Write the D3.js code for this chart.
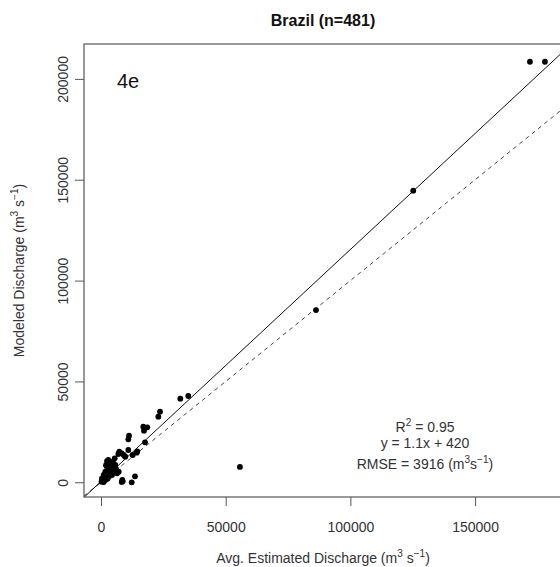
<!DOCTYPE html>
<html>
<head>
<meta charset="utf-8">
<script src="https://cdn.jsdelivr.net/npm/d3@7"></script>
<style>
  body { margin: 0; background: #fff; }
  svg { font-family: "Liberation Sans", Arial, sans-serif; }
  .axis text { fill: #333; font-size: 14px; }
  .axis line { stroke: #555; }
</style>
</head>
<body>
<div id="chart"></div>
<script>
// Avg. estimated discharge (x) and modeled discharge (y), m3/s
const estimated = [
  178000, 172000, 125200, 86200, 55700,
  35000, 31800, 23660, 22975, 18560, 16960, 17240, 11230, 10950, 17640,
  10950, 7340, 6940, 8300, 14550, 14310, 12710, 8700, 8300, 12310, 13630,
  9100, 9740, 5490, 3090, 2400, 1720, 1080, 400, 200, 3730, 5090, 5730,
  7100, 6420, 4410, 3090, 1720, 1080, 2930, 8540,
  600, 1500, 2200, 2800, 3500, 4200, 4800, 2000, 1200, 500, 900, 3500,
  2600, 5000, 4000, 6000, 2400, 2000
];
const modeled = [
  208500, 208500, 144600, 85400, 7600,
  42790, 41450, 35000, 32520, 27270, 27570, 25580, 23100, 21320, 19830,
  16010, 15170, 14030, 14380, 15370, 14680, 13530, 500, 200, 0, 2970,
  13530, 12690, 11900, 9720, 7730, 5260, 3620, 1980, 300, 6100, 7730, 8580,
  5260, 4460, 3620, 2780, 1140, 100, 11060, 1140,
  800, 2500, 4200, 5600, 7000, 8800, 10200, 3000, 1800, 400, 700, 4800,
  1800, 5500, 9500, 6800, 10500, 8500
];
const xTicks = [0, 50000, 100000, 150000];
const yTicks = [0, 50000, 100000, 150000, 200000];
const fitSlope = 1.15;
const fitIntercept = 420;
const statsLines = [
  [{ t: 'R' }, { t: '2', sup: true }, { t: ' = 0.95' }],
  [{ t: 'y = 1.1x + 420' }],
  [{ t: 'RMSE = 3916 (m' }, { t: '3', sup: true }, { t: 's' }, { t: '\u22121', sup: true }, { t: ')' }]
];

const width = 560;
const height = 567;
const box = { left: 84, right: 562, top: 44, bottom: 497 };

const x = d3.scaleLinear().domain([-6820, 184850]).range([box.left, box.right]);
const y = d3.scaleLinear().domain([-7290, 217300]).range([box.bottom, box.top]);

const svg = d3.select('#chart').append('svg')
    .attr('width', width)
    .attr('height', height);

// Write text with superscript pieces
function rich(text, parts, size) {
  const shift = size * 0.42;
  let up = false;
  text.style('font-size', `${size}px`);
  parts.forEach((p) => {
    let dy = 0;
    if (p.sup && !up) dy = -shift;
    if (!p.sup && up) dy = shift;
    up = !!p.sup;
    text.append('tspan')
        .attr('dy', dy)
        .style('font-size', p.sup ? `${size * 0.72}px` : `${size}px`)
        .text(p.t);
  });
}

svg.append('clipPath')
    .attr('id', 'plot-clip')
  .append('rect')
    .attr('x', box.left)
    .attr('y', box.top)
    .attr('width', box.right - box.left)
    .attr('height', box.bottom - box.top);

const plot = svg.append('g').attr('clip-path', 'url(#plot-clip)');

const xd = x.domain();

// 1:1 line
plot.append('line')
    .attr('x1', x(xd[0])).attr('y1', y(xd[0]))
    .attr('x2', x(xd[1])).attr('y2', y(xd[1]))
    .attr('stroke', '#444')
    .attr('stroke-width', 1)
    .attr('stroke-dasharray', '4,4');

// Fit line
plot.append('line')
    .attr('x1', x(xd[0])).attr('y1', y(fitSlope * xd[0] + fitIntercept))
    .attr('x2', x(xd[1])).attr('y2', y(fitSlope * xd[1] + fitIntercept))
    .attr('stroke', '#111')
    .attr('stroke-width', 1);

plot.append('g')
  .selectAll('circle')
    .data(estimated.map((e, i) => [e, modeled[i]]))
  .enter().append('circle')
    .attr('cx', d => x(d[0]))
    .attr('cy', d => y(d[1]))
    .attr('r', 2.9)
    .attr('fill', '#000');

// Box
svg.append('rect')
    .attr('x', box.left)
    .attr('y', box.top)
    .attr('width', box.right - box.left)
    .attr('height', box.bottom - box.top)
    .attr('fill', 'none')
    .attr('stroke', '#555')
    .attr('stroke-width', 1.2);

const gx = svg.append('g')
    .attr('class', 'axis')
    .attr('transform', `translate(0,${box.bottom})`)
    .call(d3.axisBottom(x).tickValues(xTicks).tickSize(9).tickFormat(d3.format('d')));
gx.select('.domain').remove();
gx.selectAll('text').attr('y', 35).attr('dy', 0);

const gy = svg.append('g')
    .attr('class', 'axis')
    .attr('transform', `translate(${box.left},0)`)
    .call(d3.axisLeft(y).tickValues(yTicks).tickSize(9).tickFormat(d3.format('d')));
gy.select('.domain').remove();
gy.selectAll('text')
    .attr('transform', 'rotate(-90)')
    .attr('x', 0)
    .attr('y', -16)
    .attr('dy', 0)
    .style('text-anchor', 'middle');

// Title
svg.append('text')
    .attr('x', (box.left + box.right) / 2)
    .attr('y', 26)
    .attr('text-anchor', 'middle')
    .style('font-size', '16px')
    .style('font-weight', 'bold')
    .attr('fill', '#111')
    .text('Brazil (n=481)');

// Axis titles
const xl = svg.append('text')
    .attr('x', (box.left + box.right) / 2)
    .attr('y', 563)
    .attr('text-anchor', 'middle')
    .attr('fill', '#333');
rich(xl, [{ t: 'Avg. Estimated Discharge (m' }, { t: '3', sup: true }, { t: ' s' },
  { t: '\u22121', sup: true }, { t: ')' }], 14);

const yl = svg.append('text')
    .attr('transform', `translate(24,${(box.top + box.bottom) / 2}) rotate(-90)`)
    .attr('text-anchor', 'middle')
    .attr('fill', '#333');
rich(yl, [{ t: 'Modeled Discharge (m' }, { t: '3', sup: true }, { t: ' s' },
  { t: '\u22121', sup: true }, { t: ')' }], 14);

// Panel tag
svg.append('text')
    .attr('x', 117)
    .attr('y', 88)
    .style('font-size', '20px')
    .attr('fill', '#111')
    .text('4e');

// Fit statistics
const statsY = [432, 448, 469];
statsLines.forEach((parts, i) => {
  const t = svg.append('text')
      .attr('x', 425)
      .attr('y', statsY[i])
      .attr('text-anchor', 'middle')
      .attr('fill', '#333');
  rich(t, parts, 14);
});
</script>
</body>
</html>
